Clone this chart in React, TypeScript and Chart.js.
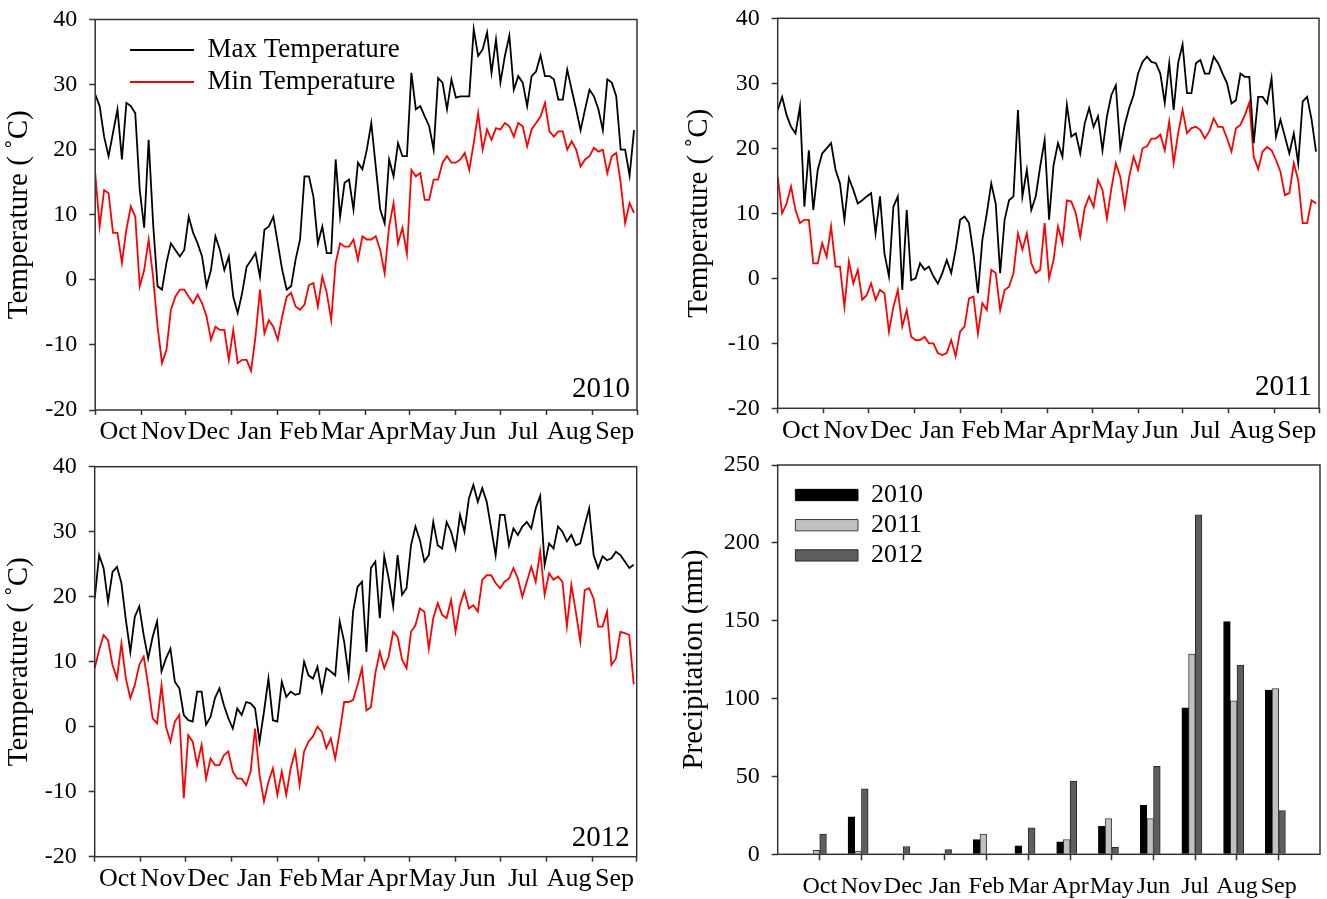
import React, { useEffect, useRef } from 'react';
import { Chart, registerables } from 'chart.js';

Chart.register(...registerables);

const FONT = '"Liberation Serif", "Times New Roman", serif';

// ---- calendar (hydrological year Oct..Sep) ----
const MONTHS = ['Oct', 'Nov', 'Dec', 'Jan', 'Feb', 'Mar', 'Apr', 'May', 'Jun', 'Jul', 'Aug', 'Sep'];
const MONTH_DAYS = [31, 30, 31, 31, 28, 31, 30, 31, 30, 31, 31, 30];
const SAMPLE_STEP_DAYS = 3; // temperature values read every 3 days from day 0

// ---- daily temperature (°C), sampled every 3 days, Oct 1 .. Sep 30 ----
const MAX_2010 = [
  28.5, 26.7, 22, 19, 22.6, 26.2, 18.5, 27.2, 26.7, 25.6,
  13.8, 8, 21.5, 8.7, -1, -1.5, 2.6, 5.6, 4.6, 3.6,
  4.6, 9.7, 7.2, 5.6, 3.6, -1, 1.5, 6.7, 4.6, 1.5,
  3.6, -2.6, -5.1, -2, 2, 3, 4.1, 0.5, 7.7, 8.2,
  9.7, 5.6, 1.5, -1.5, -1, 3.1, 6.2, 15.9, 15.9, 12.8,
  5.6, 8.2, 4.1, 4.1, 18.5, 9.7, 14.9, 15.4, 10.8, 18,
  17, 20,
  24.1, 17.4, 10.8, 8.7, 18.5, 15.9, 21, 19,
  19, 31.8, 26.2, 26.7, 25.1, 23.6, 20, 31, 30.3, 26.2,
  30.8, 28, 28.2, 28.2, 28.2, 38.5, 34.4, 35.4, 38, 31.8,
  36.9, 30.3, 34.4, 37.5, 29.2, 31.3, 30.3, 26.7, 31.3, 32,
  34.5, 31.3, 31.3, 30.8, 27.7, 27.7, 32.3, 29.2, 26.2, 23,
  26.2, 29.2, 28.2, 26.2, 23, 30.8, 30.3, 28.2, 20, 20,
  16, 23,
];
const MIN_2010 = [
  16.4, 8.2, 13.8, 13.3, 7.2, 7.2, 2.6, 7.7, 11.3, 9.7,
  -1, 1.5, 6.2, 0.5, -7.2, -12.8, -10.8, -4.6, -2.6, -1.5,
  -1.5, -2.6, -3.6, -2.3, -3.6, -5.6, -9.2, -7.2, -7.7, -7.7,
  -12.3, -7.7, -12.8, -12.3, -12.3, -14, -8.7, -1.5, -8.2, -6.2,
  -7.2, -9.2, -5.6, -2.6, -2, -4.1, -4.6, -3.8, -0.8, -0.5,
  -4.1, 0.5, -2, -6.2, 2.6, 5.6, 5.1, 5.1, 6.2, 3.1,
  6.7, 6.2,
  6.2, 6.7, 4.6, 1, 8.2, 11.8, 5.6, 8,
  4, 16.9, 15.9, 16.4, 12.3, 12.3, 15.4, 15.4, 18, 19,
  18, 18, 18.5, 19.5, 16.9, 21, 25.6, 20, 23.1, 21.5,
  23.3, 23.1, 24.1, 23.6, 22, 24.1, 23.6, 20.5, 23.1, 24.1,
  25.1, 27.2, 22.8, 22, 22.8, 22.8, 20, 21.3, 20, 17.4,
  18.5, 19, 20.3, 19.7, 20, 16.4, 19, 19.5, 14.9, 8.7,
  11.8, 10.3,
];
const MAX_2011 = [
  25.9, 27.9, 25.1, 23.3, 22.3, 26.4, 11, 19.7, 10.5, 16.7,
  19.2, 20, 20.8, 16.7, 14.6, 9, 15.4, 13.6, 11.5, 12,
  12.6, 13.1, 6.9, 12.6, 3.8, 0.3, 11, 12.6, -1.8, 10.5,
  -0.3, 0, 2.3, 1.3, 1.8, 0.3, -0.8, 0.8, 2.8, 0.8,
  4.4, 9, 9.5, 8.5, 3.8, -2.3, 5.9, 10, 14.6, 11.5,
  0.8, 9, 12, 12.6, 25.9, 12.6, 16.7, 10.5, 12.6, 17.2,
  21.3, 9,
  17.4, 20.8, 18.7, 26.7, 21.8, 22.3, 19.2, 23.8,
  26.2, 23.3, 24.9, 19.7, 24.9, 28.2, 29.7, 20, 23.6, 26.2,
  28.2, 31.5, 33.3, 34.1, 33.3, 33.1, 31.5, 27, 33.1, 25.9,
  33.1, 36, 28.5, 28.5, 33.1, 33.6, 31.5, 31.5, 34.1, 33.1,
  31.5, 30, 26.9, 27.4, 31.5, 31, 31, 20.8, 27.9, 27.9,
  26.9, 30.8, 21.8, 24.4, 21.8, 19.2, 22.3, 17.7, 27.2, 27.9,
  24.4, 19.5,
];
const MIN_2011 = [
  15.6, 10, 11.5, 14.1, 10.5, 8.5, 9, 9, 2.3, 2.3,
  5.4, 3.3, 8, 1.8, 1.8, -4.4, 2.6, -0.8, 1.3, -3.3,
  -2.6, -0.8, -3.3, -1.8, -2.3, -8.2, -4.4, -1.8, -7.4, -4.9,
  -9, -9.5, -9.5, -9, -10, -10, -11.5, -11.8, -11.5, -9.5,
  -12, -8.2, -7.4, -3.1, -2.8, -8.5, -3.8, -4.9, 1.3, 0.8,
  -4.9, -1.8, -1.3, 0.8, 6.9, 4.4, 6.9, 2.3, 0.8, 1.3,
  8.5, 0,
  2.8, 8, 5.4, 12, 11.8, 10, 6.4, 10.8,
  12.6, 11, 15.1, 13.6, 9.2, 13.8, 17.7, 15.6, 11, 15.6,
  18.7, 16.7, 20, 20.3, 21.5, 21.5, 22.1, 19.7, 24.1, 17.7,
  22.3, 25.9, 22.3, 23.1, 23.3, 22.8, 21.5, 22.6, 24.6, 23.3,
  23.3, 21.5, 19.5, 23.1, 23.6, 25.1, 27, 18.7, 16.8, 19.5,
  20.2, 19.7, 18.2, 16.4, 12.8, 13.1, 17.7, 15.1, 8.5, 8.5,
  12, 11.5,
];
const MAX_2012 = [
  19.7, 26.4, 24.4, 19.2, 23.8, 24.6, 22.1, 16.4, 11.5, 16.9,
  18.5, 14.1, 10.5, 13.8, 16.2, 8.5, 10.5, 12, 6.9, 5.9,
  1.8, 1, 0.8, 5.4, 5.4, 0.3, 1.5, 4.4, 5.9, 3.3,
  1.3, -0.3, 2.8, 1.8, 3.8, 3.6, 2.8, -2.3, 2.3, 7.4,
  1, 0.8, 6.9, 4.6, 5.4, 4.9, 5.1, 10, 7.9, 7.4,
  9.2, 5.4, 9, 8.5, 7.9, 16.2, 13.1, 7.9, 17.7, 21.5,
  22.3, 11.5,
  24.4, 25.4, 16.7, 26.2, 22.8, 18.5, 26.4, 20.3,
  21.3, 27.9, 30.8, 28.7, 25.4, 26.4, 31.5, 27.9, 27.4, 31.5,
  30, 27.4, 32.6, 30, 35.1, 37.2, 34.6, 36.7, 34.6, 30.5,
  26.4, 32.6, 32.6, 27.9, 30.5, 29.5, 30.8, 31.5, 30.5, 33.6,
  35.5, 24.9, 28.2, 27.4, 30.8, 30, 28.5, 29.5, 27.9, 28.2,
  31, 33.6, 26.4, 24.4, 26.2, 25.6, 25.9, 26.9, 26.4, 25.4,
  24.4, 24.9,
];
const MIN_2012 = [
  9, 11.8, 14.1, 13.3, 9.5, 7.4, 12.8, 7.4, 4.4, 6.4,
  9.5, 10.8, 6.4, 1.3, 0.5, 6.4, 0, -2.3, 0.8, 1.8,
  -11, -1.3, -2.3, -5.9, -2.8, -8, -4.9, -5.9, -5.9, -4.4,
  -3.8, -6.9, -8, -8, -9, -6.9, -0.3, -7.4, -11.5, -8.5,
  -6.4, -10.5, -6.9, -10.5, -6.4, -3.8, -9, -3.8, -2.3, -1.5,
  0, -0.8, -3.3, -1.8, -4.9, -0.8, 3.8, 3.8, 4.1, 6.4,
  9, 2.5,
  3, 8.2, 11.5, 9, 10.8, 14.6, 13.8, 10.3,
  9, 14.6, 15.6, 18.2, 17.7, 12, 16.7, 19, 17.2, 16.7,
  19.5, 14.6, 18.7, 20.8, 18.2, 18.7, 17.7, 22.6, 23.3, 23.3,
  22.1, 21.3, 22.3, 22.8, 24.4, 22.8, 20, 22.3, 24.6, 22.3,
  27, 20.3, 23.6, 22.6, 23.1, 22.3, 15.4, 21.8, 17.7, 13.1,
  21, 21.3, 19.7, 15.4, 15.4, 17.7, 9.5, 10.5, 14.6, 14.4,
  14.1, 6.5,
];

// ---- monthly precipitation (mm) ----
const PRECIP_2010 = [0, 24, 0, 0, 9.5, 5.5, 8, 18, 31.5, 94, 149.5, 105.5];
const PRECIP_2011 = [2.5, 2, 0, 0, 13, 0, 9.5, 23, 23, 128.5, 98.5, 106.5];
const PRECIP_2012 = [13, 42, 5, 3, 0, 17, 47, 4.5, 56.5, 218, 121.5, 28];

const TEMP_TICKS = [-20, -10, 0, 10, 20, 30, 40];
const PRECIP_TICKS = [0, 50, 100, 150, 200, 250];

// month boundaries and midpoints (day numbers)
const MONTH_BOUNDS: number[] = [0];
MONTH_DAYS.forEach((d) => MONTH_BOUNDS.push(MONTH_BOUNDS[MONTH_BOUNDS.length - 1] + d));
const MONTH_MIDS = MONTHS.map((_, i) => (MONTH_BOUNDS[i] + MONTH_BOUNDS[i + 1]) / 2);
const X_TICKS: { value: number; label: string; mark: boolean }[] = [];
MONTH_BOUNDS.forEach((b, i) => {
  X_TICKS.push({ value: b, label: '', mark: true });
  if (i < MONTHS.length) X_TICKS.push({ value: MONTH_MIDS[i], label: MONTHS[i], mark: false });
});

const toPoints = (vals: number[]) => vals.map((v, i) => ({ x: i * SAMPLE_STEP_DAYS, y: v }));

const AXIS_COLOR = '#333';

const framePlugin = {
  id: 'frame',
  afterDraw(chart: any, _args: any, opts: any) {
    const { ctx, chartArea: a } = chart;
    ctx.save();
    ctx.strokeStyle = AXIS_COLOR;
    ctx.lineWidth = 1.5;
    ctx.strokeRect(a.left, a.top, a.right - a.left, a.bottom - a.top);
    if (opts && opts.year) {
      ctx.font = `29px ${FONT}`;
      ctx.fillStyle = '#000';
      ctx.textAlign = 'right';
      ctx.textBaseline = 'alphabetic';
      ctx.fillText(opts.year, a.right - 7, a.bottom - (opts.yearLift || 13));
    }
    ctx.restore();
  },
};

// a chartArea legend keeps left = chartArea.left but top = 0; move it to its place
const legendShiftPlugin = {
  id: 'legendShift',
  afterLayout(chart: any, _args: any, opts: any) {
    const l = chart.legend;
    if (!l || !opts) return;
    const dx = opts.dx || 0;
    const dy = opts.dy || 0;
    l.left += dx;
    l.right += dx;
    l.top += dy;
    l.bottom += dy;
  },
};

type Geo = { w: number; h: number; left: number; top: number; right: number; bottom: number; xh: number; titlePad: number };

const zeroPadding = (s: any) => {
  s.paddingTop = 0;
  s.paddingBottom = 0;
  s.paddingLeft = 0;
  s.paddingRight = 0;
};

function yAxis(geo: Geo, title: string, min: number, max: number, ticks: number[]) {
  return {
    type: 'linear',
    min,
    max,
    afterBuildTicks: (s: any) => {
      s.ticks = ticks.map((v) => ({ value: v }));
    },
    afterFit: (s: any) => {
      s.width = geo.left;
      zeroPadding(s);
    },
    border: { display: false },
    grid: { offset: false, drawOnChartArea: false, drawTicks: true, tickLength: 6, tickColor: AXIS_COLOR, tickWidth: 1.5 },
    ticks: { color: '#000', font: { family: FONT, size: 24 }, padding: 12 },
    title: {
      display: true,
      text: title,
      color: '#000',
      font: { family: FONT, size: 29 },
      padding: { top: geo.titlePad, bottom: 0 },
    },
  };
}

function layoutPadding(geo: Geo) {
  return {
    left: 0,
    top: geo.top,
    right: geo.w - geo.right,
    bottom: Math.max(0, geo.h - geo.bottom - geo.xh),
  };
}

function tempConfig(
  maxV: number[],
  minV: number[],
  year: string,
  geo: Geo,
  showLegend: boolean,
  yearLift: number,
) {
  return {
    type: 'line',
    data: {
      datasets: [
        {
          label: 'Max Temperature',
          data: toPoints(maxV),
          borderColor: '#000000',
          backgroundColor: '#000000',
          borderWidth: 1.8,
          pointRadius: 0,
          tension: 0,
        },
        {
          label: 'Min Temperature',
          data: toPoints(minV),
          borderColor: '#ff0000',
          backgroundColor: '#ff0000',
          borderWidth: 1.8,
          pointRadius: 0,
          tension: 0,
        },
      ],
    },
    options: {
      responsive: false,
      animation: false,
      events: [],
      layout: { padding: layoutPadding(geo) },
      scales: {
        x: {
          type: 'linear',
          min: 0,
          max: 365,
          afterBuildTicks: (s: any) => {
            s.ticks = X_TICKS.map((t) => ({ value: t.value }));
          },
          afterFit: (s: any) => {
            s.height = geo.xh;
            zeroPadding(s);
          },
          border: { display: false },
          grid: {
            offset: false,
            drawOnChartArea: false,
            drawTicks: true,
            tickLength: 5,
            tickWidth: 1.5,
            tickColor: (c: any) => (X_TICKS[c.index] && X_TICKS[c.index].mark ? AXIS_COLOR : 'rgba(0,0,0,0)'),
          },
          ticks: {
            autoSkip: false,
            maxRotation: 0,
            minRotation: 0,
            padding: 2,
            color: '#000',
            font: { family: FONT, size: 26 },
            callback: (_v: any, i: number) => (X_TICKS[i] ? X_TICKS[i].label : ''),
          },
        },
        y: yAxis(geo, 'Temperature ( \u02DAC)', -20, 40, TEMP_TICKS),
      },
      plugins: {
        legend: {
          display: showLegend,
          position: 'chartArea',
          align: 'start',
          labels: {
            boxWidth: 64,
            boxHeight: 2,
            padding: 5,
            color: '#000',
            font: { family: FONT, size: 27 },
            generateLabels: (chart: any) =>
              (Chart.defaults as any).plugins.legend.labels
                .generateLabels(chart)
                .map((l: any) => ({ ...l, lineWidth: 0 })),
          },
        },
        tooltip: { enabled: false },
        frame: { year, yearLift },
        legendShift: { dx: 29.8, dy: 31.5 },
      },
    },
    plugins: [framePlugin, legendShiftPlugin],
  };
}

const BAR_TICK_SHIFT = 0.08;
function precipConfig(geo: Geo) {
  const mk = (label: string, vals: number[], bg: string, border: string) => ({
    label,
    data: vals.map((v, i) => ({ x: i, y: v })),
    backgroundColor: bg,
    borderColor: border,
    borderWidth: 1,
    barThickness: 6.7,
  });
  return {
    type: 'bar',
    data: {
      datasets: [
        mk('2010', PRECIP_2010, '#000000', '#000000'),
        mk('2011', PRECIP_2011, '#c0c0c0', '#3a3a3a'),
        mk('2012', PRECIP_2012, '#5e5e5e', '#2a2a2a'),
      ],
    },
    options: {
      responsive: false,
      animation: false,
      events: [],
      layout: { padding: layoutPadding(geo) },
      scales: {
        x: {
          type: 'linear',
          min: -0.927,
          max: 12.07,
          offset: false,
          afterBuildTicks: (s: any) => {
            s.ticks = MONTHS.map((_, i) => ({ value: i + BAR_TICK_SHIFT }));
          },
          afterFit: (s: any) => {
            s.height = geo.xh;
            zeroPadding(s);
          },
          border: { display: false },
          grid: {
            offset: false,
            drawOnChartArea: false,
            drawTicks: true,
            tickLength: 6,
            tickColor: AXIS_COLOR,
            tickWidth: 1.5,
          },
          ticks: {
            autoSkip: false,
            maxRotation: 0,
            minRotation: 0,
            padding: 12,
            color: '#000',
            font: { family: FONT, size: 24 },
            callback: (_v: any, i: number) => MONTHS[i],
          },
        },
        y: yAxis(geo, 'Precipitation (mm)', 0, 250, PRECIP_TICKS),
      },
      plugins: {
        legend: {
          display: true,
          position: 'chartArea',
          align: 'start',
          labels: {
            boxWidth: 62.6,
            boxHeight: 11.3,
            padding: 4.2,
            color: '#000',
            font: { family: FONT, size: 26 },
          },
        },
        tooltip: { enabled: false },
        frame: {},
        legendShift: { dx: 13.5, dy: 27.8 },
      },
    },
    plugins: [framePlugin, legendShiftPlugin],
  };
}

function Panel({ x, y, geo, make }: { x: number; y: number; geo: Geo; make: () => any }) {
  const ref = useRef<HTMLCanvasElement>(null);
  useEffect(() => {
    if (!ref.current) return;
    const chart = new Chart(ref.current, make());
    return () => chart.destroy();
  }, []);
  return (
    <div style={{ position: 'absolute', left: x, top: y, width: geo.w, height: geo.h }}>
      <canvas ref={ref} width={geo.w} height={geo.h} style={{ width: geo.w, height: geo.h, display: 'block' }} />
    </div>
  );
}

const GEO_TL: Geo = { w: 660, h: 450, left: 95.2, top: 19.5, right: 637, bottom: 410, xh: 40, titlePad: 2 };
const GEO_TR: Geo = { w: 667, h: 450, left: 117.7, top: 18.3, right: 659, bottom: 408.3, xh: 40, titlePad: 21.6 };
const GEO_BL: Geo = { w: 660, h: 449, left: 94.7, top: 16.7, right: 636.7, bottom: 406.7, xh: 40, titlePad: 2 };
const GEO_BR: Geo = { w: 667, h: 449, left: 117.7, top: 15, right: 660, bottom: 404.3, xh: 44.7, titlePad: 17 };

export default function App() {
  return (
    <div style={{ position: 'absolute', left: 0, top: 0, width: 1327, height: 899, background: '#fff', overflow: 'hidden' }}>
      <Panel x={0} y={0} geo={GEO_TL} make={() => tempConfig(MAX_2010, MIN_2010, '2010', GEO_TL, true, 13.3)} />
      <Panel x={660} y={0} geo={GEO_TR} make={() => tempConfig(MAX_2011, MIN_2011, '2011', GEO_TR, false, 13.3)} />
      <Panel x={0} y={450} geo={GEO_BL} make={() => tempConfig(MAX_2012, MIN_2012, '2012', GEO_BL, false, 11)} />
      <Panel x={660} y={450} geo={GEO_BR} make={() => precipConfig(GEO_BR)} />
    </div>
  );
}
